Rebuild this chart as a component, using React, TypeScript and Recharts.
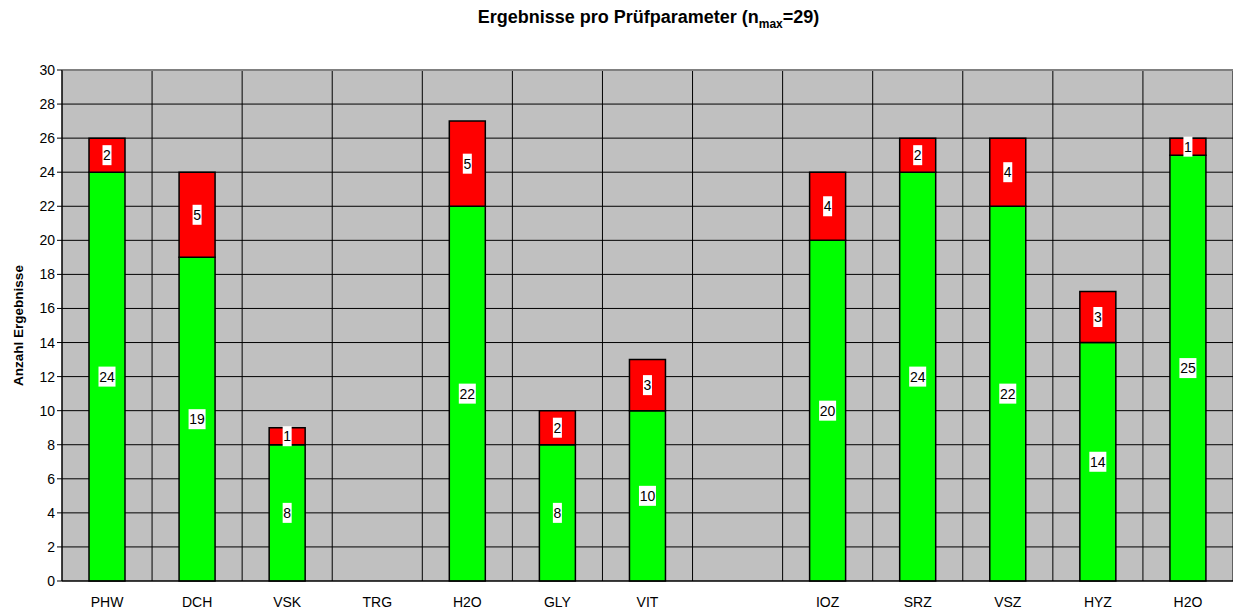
import React from "react";
import {
  BarChart,
  Bar,
  XAxis,
  YAxis,
  CartesianGrid,
  LabelList,
  ReferenceLine
} from "recharts";

const categories = ["PHW", "DCH", "VSK", "TRG", "H2O", "GLY", "VIT", "", "IOZ", "SRZ", "VSZ", "HYZ", "H2O"];
const passed = [24, 19, 8, null, 22, 8, 10, null, 20, 24, 22, 14, 25];
const failed = [2, 5, 1, null, 5, 2, 3, null, 4, 2, 4, 3, 1];
const yTicks = [0, 2, 4, 6, 8, 10, 12, 14, 16, 18, 20, 22, 24, 26, 28, 30];
const boundaryTicks = categories.map((_, i) => i).concat([categories.length]);

const FONT = "'Liberation Sans', Arial, sans-serif";

const data = categories.map((name, i) => ({
  idx: i + 0.5,
  name,
  passed: passed[i],
  failed: failed[i]
}));

// white box with the value, centred in the bar segment
const valueLabel = (props: any) => {
  const { x, y, width, height, value } = props;
  if (value == null || value === 0) return null;
  const cx = x + width / 2;
  const cy = y + height / 2;
  const w = String(value).length * 8 + 1;
  return (
    <g>
      <rect x={cx - w / 2} y={cy - 10} width={w} height={20} fill="#ffffff" />
      <text
        x={cx}
        y={cy}
        textAnchor="middle"
        dominantBaseline="central"
        fontFamily={FONT}
        fontSize={14}
        fill="#000"
      >
        {value}
      </text>
    </g>
  );
};

const noTick = () => <g />;

export default function App() {
  return (
    <div
      style={{
        position: "absolute",
        left: 0,
        top: 0,
        width: 1233,
        height: 611,
        background: "#fff",
        fontFamily: FONT
      }}
    >
      <div
        style={{
          position: "absolute",
          left: 0,
          width: 1233,
          top: 6,
          paddingLeft: 64,
          boxSizing: "border-box",
          textAlign: "center",
          fontWeight: "bold",
          fontSize: 18,
          lineHeight: "22px"
        }}
      >
        Ergebnisse pro Prüfparameter (n<sub style={{ fontSize: 12, lineHeight: 0 }}>max</sub>=29)
      </div>
      <BarChart
        width={1233}
        height={611}
        data={data}
        margin={{ top: 70, right: 0, bottom: 0, left: 0 }}
        barCategoryGap={0}
      >
        <CartesianGrid
          xAxisId="edges"
          stroke="#000"
          strokeWidth={1}
          fill="#c0c0c0"
          fillOpacity={1}
          horizontalValues={yTicks}
          verticalValues={boundaryTicks}
        />
        <XAxis
          xAxisId="edges"
          type="number"
          dataKey="idx"
          domain={[0, categories.length]}
          ticks={boundaryTicks}
          interval={0}
          tick={noTick}
          tickLine={{ stroke: "#000" }}
          tickSize={6}
          axisLine={false}
          height={0}
        />
        <XAxis
          dataKey="name"
          interval={0}
          tickLine={false}
          axisLine={{ stroke: "#000" }}
          tickMargin={10}
          height={30}
          tick={{ fontFamily: FONT, fontSize: 14, fill: "#000" }}
        />
        <YAxis
          width={62}
          domain={[0, 30]}
          ticks={yTicks}
          interval={0}
          tickSize={5}
          tickLine={{ stroke: "#000" }}
          axisLine={{ stroke: "#000" }}
          tick={{ fontFamily: FONT, fontSize: 14, fill: "#000" }}
          label={{
            content: (p: any) => {
              const vb = p.viewBox;
              const cy = vb.y + vb.height / 2;
              return (
                <text
                  x={18}
                  y={cy}
                  transform={`rotate(-90, 18, ${cy})`}
                  textAnchor="middle"
                  dominantBaseline="central"
                  fontFamily={FONT}
                  fontWeight="bold"
                  fontSize={13.5}
                  fill="#000"
                >
                  Anzahl Ergebnisse
                </text>
              );
            }
          }}
        />
        <ReferenceLine y={30} stroke="#808080" strokeWidth={2} />
        <Bar
          dataKey="passed"
          stackId="s"
          fill="#00ff00"
          stroke="#000"
          strokeWidth={1.5}
          barSize={36}
          isAnimationActive={false}
        >
          <LabelList dataKey="passed" content={valueLabel} />
        </Bar>
        <Bar
          dataKey="failed"
          stackId="s"
          fill="#ff0000"
          stroke="#000"
          strokeWidth={1.5}
          barSize={36}
          isAnimationActive={false}
        >
          <LabelList dataKey="failed" content={valueLabel} />
        </Bar>
      </BarChart>
    </div>
  );
}
